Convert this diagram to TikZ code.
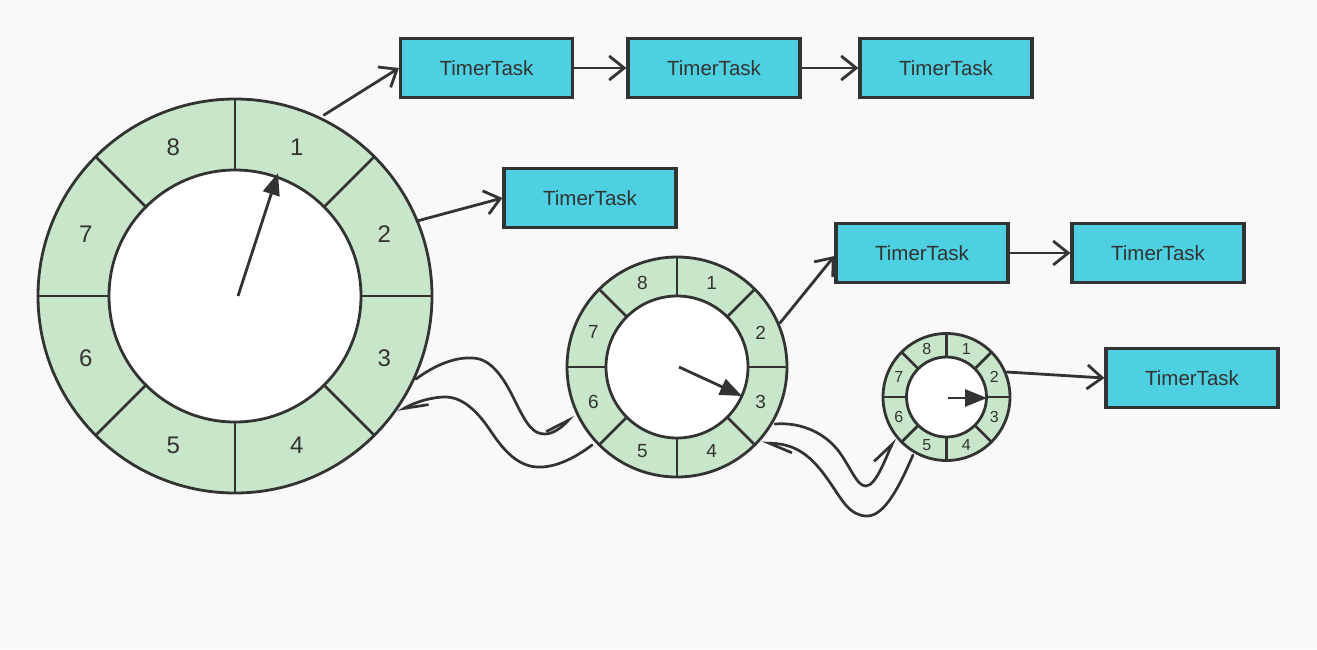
\documentclass[tikz,border=0pt]{standalone}
\usepackage{fontspec}
\setmainfont{Liberation Sans}
\usetikzlibrary{arrows.meta,calc}
\definecolor{bg}{HTML}{F9F9F9}
\definecolor{ln}{HTML}{333333}
\definecolor{slotgreen}{HTML}{C8E6C9}
\definecolor{taskcyan}{HTML}{4DD0E1}
\newcommand\drawwheel[6]{%
  \coordinate (#1) at (#2,#3);
  \fill[slotgreen] (#1) circle[radius=#4pt];
  \fill[white] (#1) circle[radius=#5pt];
  \foreach \a in {0,45,...,315}
    \draw[rim] ($(#1)+(\a:#5pt)$) -- ($(#1)+(\a:#4pt)$);
  \draw[rim] (#1) circle[radius=#4pt] (#1) circle[radius=#5pt];
  \pgfmathsetmacro\midr{(#4+#5)/2}
  \foreach \k in {1,...,8}
    \node[slotnum, font=\fontsize{#6}{#6}\selectfont] (#1-\k) at ($(#1)+({67.5-45*(\k-1)}:\midr pt)$) {\k};
}
\begin{document}
\begin{tikzpicture}[x=1pt,y=1pt,
  rim/.style={draw=ln, line width=2.8pt},
  slotnum/.style={text=ln, inner sep=0pt},
  task/.style={draw=ln, line width=3.2pt, fill=taskcyan, minimum width=172pt, minimum height=59pt, inner sep=0pt, text=ln, font=\fontsize{20.5}{24}\selectfont},
  link/.style={draw=ln, line width=2.8pt, line cap=round, line join=round, -{Straight Barb[length=15pt,width=24pt]}},
  wave/.style={draw=ln, line width=2.7pt, line cap=round, line join=round, -{Straight Barb[harpoon,length=23pt,width=18pt]}},
  hand/.style={draw=ln, line width=2.8pt, -{Triangle[length=22pt,width=17pt]}},
]
\useasboundingbox (0,0) rectangle (1317,-649);
\fill[bg] (0,0) rectangle (1317,-649);

% wheels
\drawwheel{wa}{235}{-296}{197}{126}{24}
\drawwheel{wb}{677}{-367}{110}{71}{19}
\drawwheel{wc}{946.5}{-397}{63.5}{40}{16}

% pointers
\coordinate (ha0) at (238,-296); \coordinate (ha1) at (278,-173);
\coordinate (hb0) at (679,-367); \coordinate (hb1) at (742,-396);
\coordinate (hc0) at (948,-398); \coordinate (hc1) at (987,-398);
\draw[hand] (ha0) -- (ha1);
\draw[hand] (hb0) -- (hb1);
\draw[hand] (hc0) -- (hc1);

% timer tasks
\node[task] (t1) at (486.5,-68) {TimerTask};
\node[task] (t2) at (714,-68) {TimerTask};
\node[task] (t3) at (946,-68) {TimerTask};
\node[task] (t4) at (590,-198) {TimerTask};
\node[task] (t5) at (922,-253) {TimerTask};
\node[task] (t6) at (1158,-253) {TimerTask};
\node[task] (t7) at (1192,-378) {TimerTask};

% links
\coordinate (s1) at (324,-115);
\coordinate (s4) at (417,-221);
\coordinate (s5) at (780,-323);
\coordinate (s7) at (1007,-372);
\draw[link] (s1) -- (t1.west);
\draw[link] (t1.east) -- (t2.west);
\draw[link] (t2.east) -- (t3.west);
\draw[link] (s4) -- (t4.west);
\draw[link] (s5) -- ([yshift=-3pt]t5.west);
\draw[link] (t5.east) -- (t6.west);
\draw[link] (s7) -- (t7.west);

% cascading curves
\coordinate (a0) at (416,-379); \coordinate (a1) at (573,-415);
\coordinate (b0) at (592,-445); \coordinate (b1) at (398,-412);
\coordinate (c0) at (775,-424); \coordinate (c1) at (895,-438);
\coordinate (d0) at (913,-455); \coordinate (d1) at (762,-443);
\draw[wave] (a0) .. controls (435,-365) and (455,-357) .. (472,-358)
  .. controls (492,-358) and (505,-380) .. (516,-403)
  .. controls (527,-425) and (533,-434) .. (545,-434)
  .. controls (555,-434) and (565,-424) .. (a1);
\draw[wave] (b0) .. controls (575,-458) and (555,-468) .. (537,-467)
  .. controls (515,-466) and (500,-445) .. (490,-430)
  .. controls (475,-408) and (460,-396) .. (443,-397)
  .. controls (425,-398) and (410,-405) .. (b1);
\draw[wave] (c0) .. controls (800,-422) and (825,-432) .. (840,-453)
  .. controls (852,-470) and (857,-486) .. (866,-486)
  .. controls (876,-486) and (887,-455) .. (c1);
\draw[wave] (d0) .. controls (900,-485) and (885,-516) .. (867,-516)
  .. controls (850,-516) and (842,-500) .. (833,-487)
  .. controls (815,-460) and (800,-444) .. (d1);
\end{tikzpicture}
\end{document}
